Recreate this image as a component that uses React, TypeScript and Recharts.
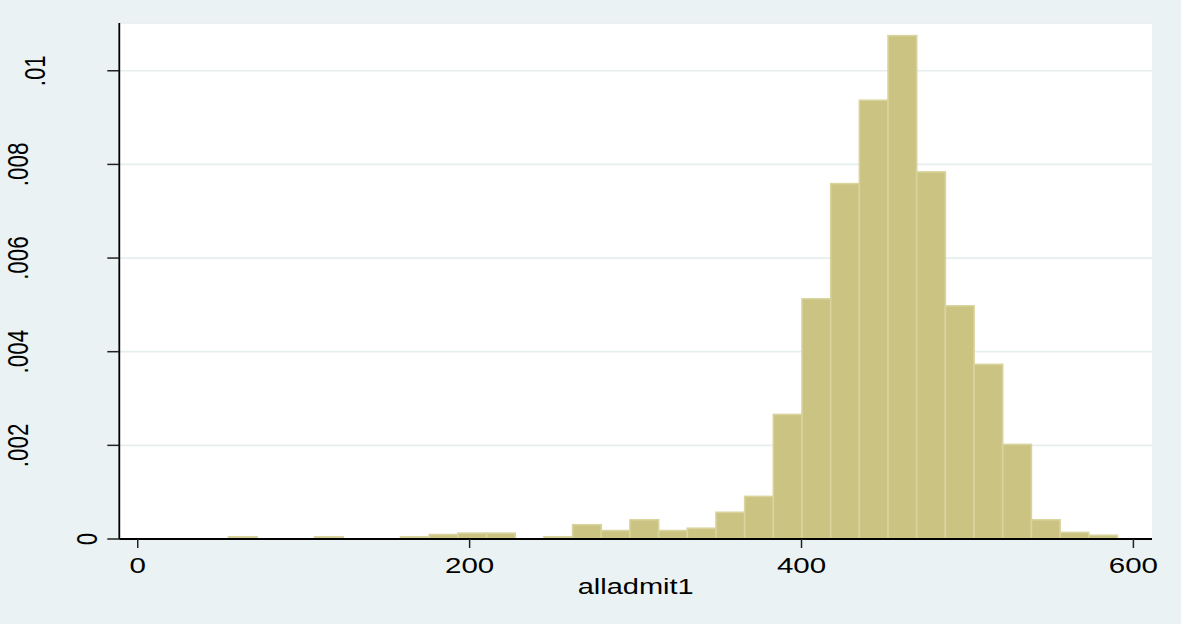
import React from 'react';
import { BarChart, Bar, XAxis, YAxis, CartesianGrid, Label } from 'recharts';

// Histogram of alladmit1 (density scale), 31 equal-width bins
const binStart = 54.6;
const binWidth = 17.28;
const density = [
  0.000048, 0, 0, 0.000048, 0, 0, 0.000048, 0.000096, 0.000125, 0.000125,
  0, 0.000048, 0.000305, 0.00018, 0.00041, 0.00018, 0.00023, 0.00057, 0.00091, 0.00266,
  0.00513, 0.00759, 0.00937, 0.01075, 0.00784, 0.00498, 0.00373, 0.00202, 0.00041, 0.00014,
  0.00008,
];
const xTicks = [0, 200, 400, 600];
const yTicks = [0, 0.002, 0.004, 0.006, 0.008, 0.01];
const xTitle = 'alladmit1';

const X_DOMAIN: [number, number] = [-11.1, 611.2];
const Y_DOMAIN: [number, number] = [0, 0.01102];

const data = density.map((d, i) => ({ mid: binStart + (i + 0.5) * binWidth, density: d }));

// layout
const W = 1181;
const H = 624;
const PLOT_LEFT = 119.3;
const PLOT_RIGHT = 1152;
const PLOT_TOP = 23;
const PLOT_BOTTOM = 539;
const SY = 0.76; // vertical squeeze of the text glyphs
const FONT = '"Liberation Sans", Arial, sans-serif';
const FONT_SIZE = 29.5;

const BG = '#EAF2F3';
const BAR_FILL = '#CBC382';
const BAR_EDGE = '#D9D39D';

const BIN_PX = (binWidth * (PLOT_RIGHT - PLOT_LEFT)) / (X_DOMAIN[1] - X_DOMAIN[0]);

const fmtY = (v: number) => (v === 0 ? '0' : String(v).replace(/^0/, ''));

const HistBar = (props: any) => {
  const { x, y, width, height } = props;
  if (!height || height <= 0) return <g />;
  const cx = x + width / 2;
  return (
    <rect
      x={cx - BIN_PX / 2}
      y={y}
      width={BIN_PX}
      height={height}
      fill={BAR_FILL}
      stroke={BAR_EDGE}
      strokeWidth={1.6}
    />
  );
};

const XTick = (props: any) => {
  const { x, y, payload } = props;
  return (
    <g transform={`translate(${x},${y + 24.7}) scale(1,${SY})`}>
      <text x={0} y={0} textAnchor="middle" fontFamily={FONT} fontSize={FONT_SIZE} fill="#000">
        {payload.value}
      </text>
    </g>
  );
};

// baseline offsets of the rotated y labels, left of the tick ends
const yLabelShift: Record<string, number> = { '0': -10.3, '.01': -62.3 };

const YTick = (props: any) => {
  const { x, y, payload } = props;
  const txt = fmtY(payload.value);
  const shift = yLabelShift[txt] ?? -79;
  return (
    <g transform={`translate(${x + shift},${y}) scale(1,${SY}) rotate(-90)`}>
      <text x={0} y={0} textAnchor="middle" fontFamily={FONT} fontSize={FONT_SIZE} fill="#000">
        {txt}
      </text>
    </g>
  );
};

const XTitle = (props: any) => {
  const vb = props.viewBox || {};
  const cx = vb.x + vb.width / 2;
  return (
    <g transform={`translate(${cx},${vb.y + 55}) scale(1,${SY})`}>
      <text x={0} y={0} textAnchor="middle" fontFamily={FONT} fontSize={FONT_SIZE - 0.5} fill="#000">
        {xTitle}
      </text>
    </g>
  );
};

export default function App() {
  return (
    <div style={{ position: 'absolute', left: 0, top: 0, width: W, height: H, background: BG }}>
      <BarChart
        width={W}
        height={H}
        data={data}
        margin={{ top: PLOT_TOP, right: W - PLOT_RIGHT, bottom: 0, left: 0 }}
        barCategoryGap={0}
        barGap={0}
      >
        <CartesianGrid
          vertical={false}
          stroke="#E6EEF0"
          strokeWidth={1.7}
          fill="#FFFFFF"
          fillOpacity={1}
        />
        <XAxis
          dataKey="mid"
          type="number"
          domain={X_DOMAIN}
          ticks={xTicks}
          interval={0}
          height={H - PLOT_BOTTOM}
          tickSize={9}
          tickMargin={0}
          axisLine={{ stroke: '#000', strokeWidth: 1.8 }}
          tickLine={{ stroke: '#222', strokeWidth: 1.5 }}
          tick={<XTick />}
        >
          <Label content={<XTitle />} />
        </XAxis>
        <YAxis
          type="number"
          domain={Y_DOMAIN}
          ticks={yTicks}
          interval={0}
          width={PLOT_LEFT}
          tickSize={12}
          tickMargin={0}
          axisLine={{ stroke: '#000', strokeWidth: 1.8 }}
          tickLine={{ stroke: '#222', strokeWidth: 1.5 }}
          tick={<YTick />}
        />
        <Bar dataKey="density" isAnimationActive={false} shape={<HistBar />} />
      </BarChart>
    </div>
  );
}
